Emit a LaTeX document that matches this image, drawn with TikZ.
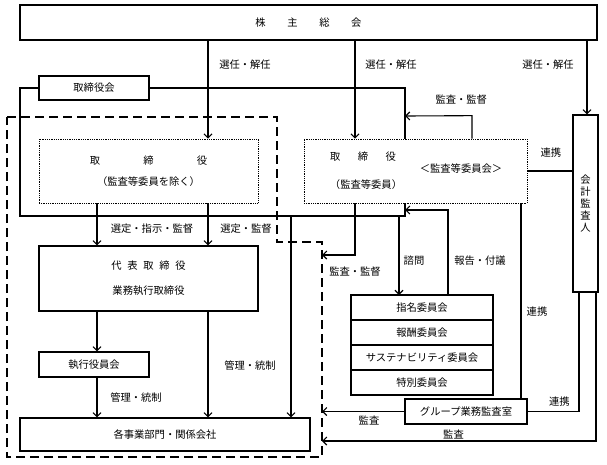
\documentclass[tikz,border=0pt]{standalone}
\usepackage{fontspec}
\setmainfont{Noto Sans CJK JP}
\usetikzlibrary{arrows.meta, positioning}

\begin{document}
\begin{tikzpicture}[
    x=1pt, y=-1pt,
    every node/.style={font=\fontsize{10.3}{12}\selectfont},
    box/.style={draw, line width=1.1pt, inner sep=0pt, align=center},
    dotbox/.style={draw, line width=0.7pt, dash pattern=on 0.9pt off 0.9pt,
                   inner sep=0pt, align=center},
    com/.style={box, minimum width=142pt, minimum height=25pt, outer sep=0pt},
    ln/.style={line width=1.1pt},
    arr/.style={ln, -{Straight Barb[length=4pt,width=8pt]}},
    grp/.style={line width=1.3pt, dash pattern=on 9pt off 5pt}
  ]
  \useasboundingbox (0,0) rectangle (607,464);

  \node[box, minimum width=577pt, minimum height=35pt] (agm) at (308.5,22.5)
       {株\hspace{2.1em}主\hspace{2.1em}総\hspace{2.1em}会};
  \node[box, minimum width=110pt, minimum height=24pt] (bod) at (94,88) {取締役会};

  \node[dotbox, minimum width=219pt, minimum height=64pt] (dir) at (148.5,171)
       {取\hspace{4.2em}締\hspace{4.2em}役\\[9pt]（監査等委員を除く）};
  \node[dotbox, minimum width=223pt, minimum height=64pt] (ac) at (415.5,171) {};
  \node (actitle) at (363,157) {取\hspace{1.7em}締\hspace{1.7em}役};
  \node (acsub)   at (366,185) {（監査等委員）};
  \node (accom)   at (461,169) {＜監査等委員会＞};

  \node[box, minimum width=219pt, minimum height=65pt] (rep) at (148.5,278.5)
       {代\hspace{0.55em}表\hspace{0.55em}取\hspace{0.55em}締\hspace{0.55em}役\\[13pt]業務執行取締役};
  \node[box, minimum width=110pt, minimum height=25pt] (exec) at (94,364.5) {執行役員会};
  \node[box, minimum width=290pt, minimum height=33pt] (biz) at (165,434.5) {各事業部門・関係会社};

  \node[com] (com1) at (422,307.5) {指名委員会};
  \node[com, below=0pt of com1] (com2) {報酬委員会};
  \node[com, below=0pt of com2] (com3) {サステナビリティ委員会};
  \node[com, below=0pt of com3] (com4) {特別委員会};

  \node[box, minimum width=122pt, minimum height=25pt] (gia) at (466,411.5) {グループ業務監査室};
  \node[box, minimum width=25pt, minimum height=177pt] (aud) at (585.5,203.5)
       {会\\計\\監\\査\\人};

  %% columns and bends
  \coordinate (xL) at (20,0);
  \coordinate (xA) at (97,0);
  \coordinate (xB) at (208,0);
  \coordinate (xC) at (291,0);
  \coordinate (xD) at (355,0);
  \coordinate (xE) at (399,0);
  \coordinate (xG) at (448,0);
  \coordinate (xH) at (472,0);
  \coordinate (xI) at (521,0);
  \coordinate (xJ) at (579,0);
  \coordinate (xK) at (587,0);
  \coordinate (xM) at (596,0);
  \coordinate (brk)  at (405,216);
  \coordinate (supT) at (405,116);
  \coordinate (repT) at (405,210);
  \coordinate (grpR) at (322,0);
  \coordinate (t1) at (322,255);
  \coordinate (t2) at (322,441);

  %% group outline
  \draw[grp] (7,117) -- (277,117) -- (277,242) -- (322,242) -- (322,457) -- (7,457) -- cycle;

  %% from the general meeting
  \draw[arr] (agm.south -| xB) -- node[pos=0.24, xshift=37pt]{選任・解任} (dir.north -| xB);
  \draw[arr] (agm.south -| xD) -- node[pos=0.24, xshift=36pt]{選任・解任} (ac.north -| xD);
  \draw[arr] (agm.south -| xK) -- node[pos=0.32, xshift=-39pt]{選任・解任} (aud.north -| xK);

  %% board bracket
  \draw[ln] (bod.west) -| (xL |- brk) -- (brk) -- (ac.south -| brk);
  \draw[ln] (bod.east) -| (ac.north -| brk);
  \draw[arr] (ac.north -| xH) -- ++(0,-23) -- node[pos=0.16, yshift=16pt]{監査・監督} (supT);

  %% executive side
  \draw[arr] (dir.south -| xA) -- node[pos=0.6, xshift=55pt]{選定・指示・監督} (rep.north -| xA);
  \draw[arr] (dir.south -| xB) -- node[pos=0.6, xshift=38pt]{選定・監督} (rep.north -| xB);
  \draw[arr] (rep.south -| xA) -- (exec.north -| xA);
  \draw[arr] (exec.south -| xA) -- node[pos=0.49, xshift=39pt]{管理・統制} (biz.north -| xA);
  \draw[arr] (rep.south -| xB) -- node[pos=0.51, xshift=42pt]{管理・統制} (biz.north -| xB);
  \draw[arr] (brk -| xC) -- (biz.north -| xC);

  %% audit side
  \draw[arr] (ac.south -| xD) |- node[pos=0.5, yshift=-17pt]{監査・監督} (t1);
  \draw[arr] (brk -| xE) -- node[pos=0.56, xshift=15pt]{諮問} (com1.north -| xE);
  \draw[arr] (com1.north -| xG) |- node[pos=0.2, xshift=32pt]{報告・付議} (repT);
  \draw[ln] (ac.south -| xI) -- node[pos=0.556, xshift=16pt]{連携} (gia.north -| xI);
  \draw[ln] (ac.east) -- node[pos=0.52, yshift=18pt]{連携} (aud.west |- ac.east);
  \draw[ln] (aud.south -| xJ) |- node[pos=0.69, yshift=10pt]{連携} (gia.east);
  \draw[arr] (gia.west) -- node[pos=0.43, yshift=-9pt]{監査} (gia.west -| grpR);
  \draw[arr] (aud.south -| xM) |- node[pos=0.76, yshift=7pt]{監査} (t2);

\end{tikzpicture}
\end{document}
